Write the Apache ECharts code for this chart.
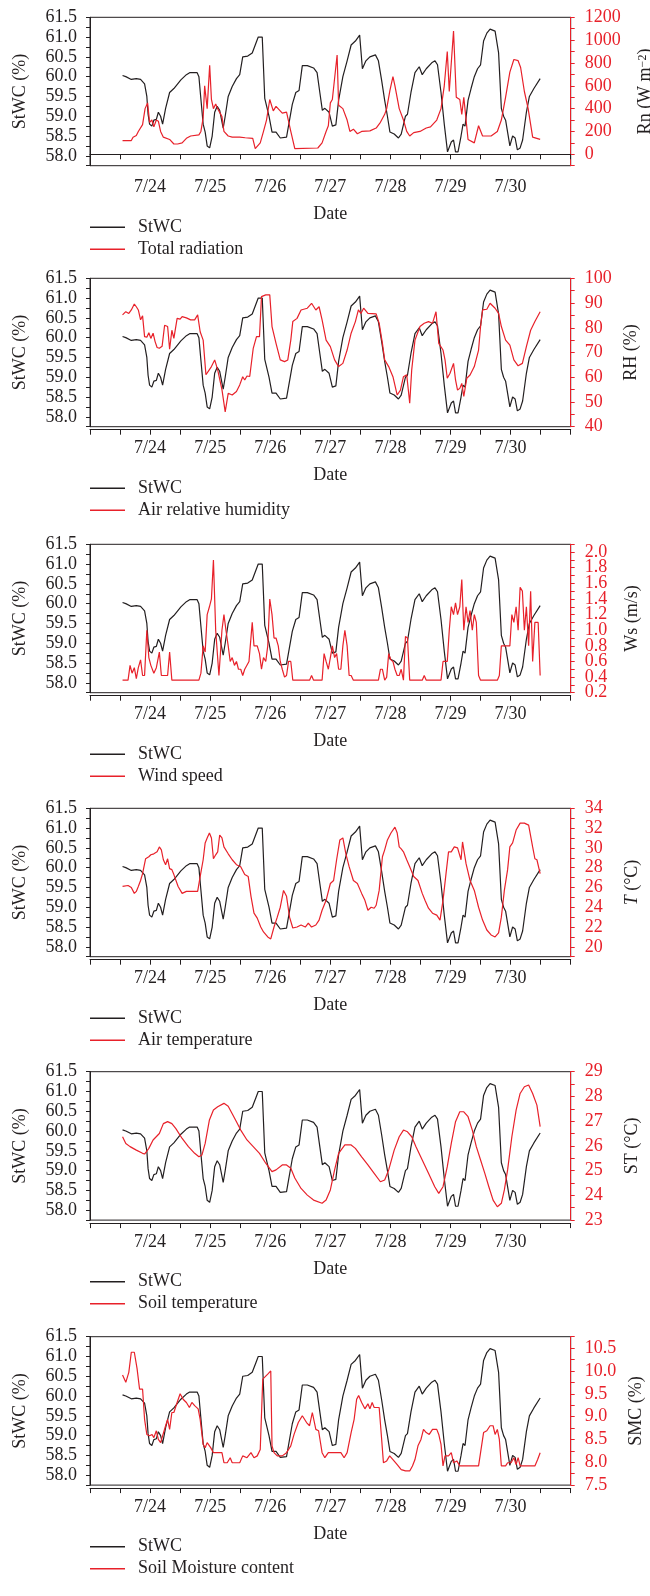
<!DOCTYPE html>
<html>
<head>
<meta charset="utf-8">
<title>StWC</title>
<script src="https://cdn.jsdelivr.net/npm/echarts@6.0.0/dist/echarts.min.js"></script>
<style>
	html, body { margin: 0; padding: 0; background: #fff; }
	#main { width: 650px; height: 1596px; }
</style>
</head>
<body>
<div id="main"></div>
<script>
// x values are hours counted from 7/23 00:00
var dateLabels = ['7/24', '7/25', '7/26', '7/27', '7/28', '7/29', '7/30'];

// stem water content (left axis, same in every panel)
var stwcHour = [13, 14.3, 16.5, 18.5, 20.2, 21.8, 22.7, 23.2, 23.8, 24.7, 25.5, 26.5, 27.3, 28.2, 29, 30.2, 31.8, 33.5, 36.3, 38.5, 39.8, 41.8, 42.2, 42.8, 43.5, 44.2, 45.2, 46, 46.8, 47.8, 48.8, 49.8, 50.8, 51.8, 53.2, 54, 55.2, 56.8, 58.5, 59.8, 61, 63, 64.8, 66.3, 67.2, 68.8, 69.8, 71.5, 72.7, 74.3, 76, 78.5, 79.2, 80.8, 82.2, 83.5, 84.8, 86.8, 89.3, 90.7, 91.8, 92.8, 93.8, 95.5, 96.8, 98.2, 99.3, 101, 102.7, 104.3, 106, 107.7, 108.8, 110.2, 111.8, 114, 115.2, 116.5, 117.7, 118.8, 119.8, 121.5, 123.2, 124.3, 126, 126.8, 128.2, 129.8, 131.5, 132.7, 134.3, 136.5, 137.8, 138.8, 140.2, 141.5, 142.8, 144.3, 145.2, 146, 147, 148.2, 149, 149.8, 151, 152.2, 153.5, 154.8, 156, 157.2, 158.5, 159.8, 161.8, 163.2, 164.3, 165.2, 166, 167.7, 168.8, 169.8, 170.7, 171.8, 172.8, 174.3, 175.5, 177.3, 179.8];
var stwcVal = [60.03, 60.0, 59.93, 59.95, 59.93, 59.82, 59.5, 59.05, 58.8, 58.75, 58.9, 58.92, 59.1, 59.0, 58.8, 59.2, 59.6, 59.7, 59.92, 60.05, 60.1, 60.1, 60.05, 60.1, 60.0, 59.5, 58.8, 58.6, 58.25, 58.2, 58.5, 59.1, 59.25, 59.15, 58.7, 59.0, 59.5, 59.75, 59.95, 60.05, 60.5, 60.52, 60.6, 60.85, 61.0, 61.0, 59.45, 59.0, 58.6, 58.6, 58.45, 58.47, 58.5, 59.3, 59.6, 59.65, 60.28, 60.28, 60.22, 60.1, 59.6, 59.15, 59.2, 59.1, 58.75, 58.78, 59.4, 60.0, 60.4, 60.8, 60.9, 61.05, 60.2, 60.4, 60.5, 60.55, 60.4, 59.9, 59.4, 59.0, 58.6, 58.55, 58.45, 58.55, 59.0, 59.05, 59.6, 60.1, 60.25, 60.05, 60.2, 60.35, 60.4, 60.3, 59.6, 58.8, 58.1, 58.35, 58.4, 58.1, 58.1, 58.5, 58.8, 58.75, 59.4, 59.7, 60.0, 60.2, 60.3, 60.9, 61.1, 61.2, 61.15, 60.6, 59.2, 59.0, 58.9, 58.25, 58.5, 58.45, 58.15, 58.2, 58.4, 59.1, 59.5, 59.7, 59.95];

// total radiation Rn (W m-2)
var rnHour = [13, 16.5, 17.2, 18.5, 19.3, 21, 22, 23, 23.8, 24.7, 25.5, 26.5, 27.3, 28.2, 29.3, 31.8, 33.5, 35, 36.8, 38.5, 40.2, 43.5, 44.3, 45.2, 45.8, 46.8, 47.8, 48.5, 49.3, 50.2, 51, 52.7, 53.5, 55.2, 56.8, 59.8, 62, 65, 66, 68, 69.3, 70.5, 71.8, 73.2, 74.3, 76.8, 78.5, 80.2, 81.8, 91, 92.7, 94.3, 95.2, 96, 96.8, 98.7, 99.3, 101, 102.7, 103.8, 105.2, 106.8, 108.5, 111.8, 114.3, 116, 117.7, 118.5, 119.8, 121, 121.8, 123.5, 125.2, 126.5, 127.7, 129.3, 131.8, 134.3, 136, 138.5, 140.2, 141.5, 142.7, 143.5, 145.2, 146.3, 147.7, 148.5, 149.3, 151, 153.5, 155.2, 156.8, 160.2, 162.7, 164.3, 166, 167.7, 169.3, 171, 172, 173.5, 175, 176.8, 179.8];
var rnVal = [120, 120, 150, 165, 200, 260, 400, 450, 280, 300, 240, 300, 290, 200, 150, 130, 90, 90, 100, 140, 160, 170, 200, 320, 600, 400, 780, 480, 400, 440, 400, 330, 200, 160, 150, 150, 145, 140, 50, 100, 200, 300, 480, 380, 420, 360, 370, 200, 50, 55, 100, 200, 250, 450, 480, 870, 430, 400, 300, 200, 220, 180, 200, 205, 230, 280, 350, 400, 560, 680, 600, 400, 300, 200, 160, 190, 200, 230, 240, 300, 400, 600, 900, 550, 1080, 500, 480, 350, 500, 130, 100, 250, 160, 160, 200, 300, 500, 720, 830, 820, 760, 550, 400, 150, 130];

// air relative humidity RH (%)
var rhHour = [13, 14.3, 15.5, 16.5, 17.7, 18.5, 19.3, 20.2, 21, 21.8, 22.7, 23.5, 24.3, 25.2, 26, 26.8, 27.7, 28.8, 29.8, 31, 31.8, 32.7, 33.5, 34.8, 36, 36.8, 38.5, 40.2, 41.8, 43, 44, 45.2, 46.3, 47.3, 48.5, 49.8, 51, 52.7, 54, 55.2, 56.8, 58.5, 59.8, 61, 61.8, 62.7, 63.8, 65.2, 66.5, 67.7, 68.5, 70.2, 71.8, 72.7, 74.3, 76, 77.7, 79, 80.2, 81, 82.7, 84.3, 86.8, 88.5, 90.2, 91.5, 92.7, 94.3, 96, 97.7, 99.3, 101, 102.7, 104.3, 106, 107.2, 108.2, 109.3, 111, 114.3, 115.5, 116.8, 117.7, 119.3, 121, 122.7, 124, 125.2, 126.5, 127.7, 128.5, 129.8, 131.8, 133.5, 135.2, 136.8, 138.2, 139.3, 141, 141.8, 142.7, 143.8, 145.2, 146, 146.8, 147.7, 148.5, 149.3, 150.5, 151.8, 153.5, 155.2, 156, 156.8, 158.5, 159.8, 161.8, 163.2, 164.3, 166, 167.7, 169.3, 171, 172.7, 174.3, 176, 177.7, 178.3, 179.8];
var rhVal = [85.2, 86.5, 85.8, 87.2, 89.6, 88.5, 87.2, 83.2, 84.8, 76.4, 76.2, 78, 75.7, 77.8, 74.4, 72, 71.7, 72.5, 81, 80.5, 71.3, 79, 75.7, 83.8, 83.5, 84.5, 84, 83.2, 83.2, 85.2, 78.4, 75, 61, 62.5, 64.3, 67, 63, 55, 46, 53.5, 52.8, 54.2, 56.9, 60.2, 58.9, 60.5, 60.3, 71.7, 76.4, 76.4, 92.6, 93.3, 93.3, 80.5, 73.7, 67, 66.3, 67, 75, 82.5, 83.8, 87.2, 87.9, 89.9, 87.2, 88.5, 83.2, 75, 72.4, 67, 64.3, 65.6, 71, 77.8, 82.5, 87.2, 85.8, 87.9, 85.8, 85.6, 81.8, 73.7, 67, 64.3, 60.2, 52.8, 54.8, 60.2, 61, 49.5, 63, 75, 80.5, 81.8, 82.5, 81.8, 86.5, 73.7, 71, 67, 59.6, 61.6, 65.6, 58.9, 54.8, 55.5, 57.5, 52.2, 59.6, 60.9, 64.3, 71, 80.5, 87.2, 87.5, 89.9, 87.9, 85.8, 80.5, 75, 73, 67, 64.6, 65.6, 72.4, 79, 82.5, 83, 86.5];

// wind speed Ws (m/s)
var wsHour = [13, 15.2, 16, 16.8, 17.7, 18.5, 19.3, 20.2, 21, 21.8, 22.7, 23.5, 24.3, 25.5, 26.5, 27.7, 28.5, 31, 31.8, 32.7, 43.5, 44.3, 45.2, 46, 46.8, 47.7, 48.5, 49.3, 50.2, 51.5, 52.7, 53.5, 54.3, 55.2, 56, 56.8, 57.7, 58.5, 59.3, 60.2, 61, 61.8, 63.5, 64.8, 65.5, 66.8, 67.7, 68.5, 69.3, 70.2, 71, 71.8, 72.7, 73.5, 74.3, 75.2, 76, 76.8, 77.7, 78.5, 79.3, 80.2, 81, 87.7, 88.5, 89.3, 92.7, 93.5, 94.3, 95.2, 96, 96.8, 97.7, 98.5, 99.3, 100.2, 101, 101.8, 102.7, 103.5, 104.3, 105.2, 115.2, 116, 116.8, 117.7, 118.5, 119.3, 120.2, 121, 121.8, 122.7, 123.5, 124.3, 125.2, 126, 126.8, 127.7, 132.7, 133.5, 134.3, 140.2, 141, 142.7, 143.5, 144.3, 145.2, 146, 146.8, 147.7, 148.5, 149.3, 150.2, 151, 151.8, 152.7, 153.5, 154.3, 155.2, 156, 162.7, 163.5, 164.3, 167.7, 168.5, 169.3, 170.2, 171, 171.8, 172.7, 173.5, 174.3, 175.2, 176, 176.8, 177.7, 179, 179.8];
var wsVal = [0.36, 0.36, 0.55, 0.45, 0.52, 0.38, 0.52, 0.62, 0.42, 0.42, 1.0, 0.65, 0.55, 0.45, 0.52, 0.72, 0.42, 0.42, 0.72, 0.36, 0.36, 0.45, 0.8, 0.72, 1.2, 1.3, 1.4, 1.9, 1.0, 0.42, 1.0, 1.2, 1.0, 0.8, 0.6, 0.65, 0.55, 0.6, 0.5, 0.5, 0.42, 0.5, 0.6, 1.1, 0.8, 0.8, 0.7, 0.5, 0.65, 0.6, 0.8, 1.4, 1.2, 0.9, 0.9, 0.8, 0.6, 0.5, 0.4, 0.42, 0.6, 0.6, 0.36, 0.36, 0.42, 0.36, 0.36, 0.7, 0.6, 0.5, 0.65, 0.8, 0.65, 0.7, 0.5, 0.5, 0.8, 1.0, 0.8, 0.42, 0.42, 0.36, 0.36, 0.5, 0.5, 0.36, 0.4, 0.7, 0.62, 0.6, 0.5, 0.42, 0.42, 0.5, 0.36, 0.92, 0.9, 0.36, 0.36, 0.42, 0.36, 0.36, 0.6, 0.6, 1.0, 1.3, 1.2, 1.35, 1.2, 1.3, 1.65, 1.0, 1.3, 1.1, 1.25, 1.0, 1.2, 1.1, 0.42, 0.36, 0.36, 0.42, 0.8, 0.8, 1.2, 1.1, 1.3, 1.0, 1.55, 1.5, 1.0, 1.3, 0.8, 1.5, 0.6, 1.1, 1.1, 0.42];

// air temperature T (°C)
var atHour = [13, 15.2, 16.5, 17.7, 18.5, 19.3, 20.2, 21, 22.2, 23.5, 24.3, 25.5, 26.8, 27.7, 28.5, 29.3, 30.2, 31, 31.8, 32.7, 33.5, 35.2, 36.8, 38.5, 43, 44, 45.2, 46, 46.8, 47.7, 48.5, 49.3, 50.2, 51, 51.8, 52.7, 53.5, 55.2, 56.8, 58.5, 60.2, 61.8, 63.2, 64.3, 65.5, 66.8, 68.2, 69.3, 71, 72.2, 73.5, 74.8, 76, 77.3, 78.5, 79.7, 81, 82.7, 84.3, 86, 87.2, 88.5, 90.2, 91.5, 92.7, 94.3, 96, 97.3, 98.5, 99.8, 101, 102.2, 103.5, 105.2, 106.8, 108.5, 109.8, 111, 112.3, 113.5, 114.3, 115.5, 116.8, 117.7, 118.8, 120.2, 121.8, 122.7, 123.5, 124.3, 125.2, 126.5, 127.7, 129.3, 131, 132.7, 133.8, 135.2, 136.8, 138.5, 139.8, 141, 142.2, 143.2, 144.3, 145.5, 146.8, 148.2, 148.8, 150.2, 151.8, 153.5, 155.2, 156.8, 158.5, 160.2, 161.8, 163.2, 164.3, 165.5, 166.8, 167.7, 168.8, 170.2, 171.8, 173.5, 175.2, 176.8, 177.7, 178.5, 179.8];
var atVal = [26.1, 26.2, 26.0, 25.4, 25.6, 26.1, 26.7, 27.4, 28.9, 29.1, 29.3, 29.4, 29.6, 30.1, 29.8, 28.8, 28.3, 28.9, 27.9, 27.8, 27.3, 26.1, 25.4, 25.6, 25.6, 27.1, 28.8, 30.5, 31, 31.5, 31, 28.9, 29.3, 29.6, 31.3, 31, 30.1, 29.4, 28.8, 28.3, 28.1, 27.3, 27.1, 25.1, 23.4, 22.9, 22, 21.5, 21, 20.8, 22, 23, 24, 25.7, 25.1, 23, 21.9, 22, 22.2, 22, 22.4, 22, 22.2, 22.7, 23.7, 24.7, 26.4, 26.7, 28.8, 30.8, 31, 29.4, 28.1, 26.7, 26.4, 25.4, 24.7, 23.7, 24, 23.9, 24.2, 25.7, 29.1, 29.8, 30.8, 31.5, 32.1, 31.5, 30.1, 29.9, 29.6, 28.8, 28.1, 27.1, 26.7, 25.4, 24.7, 23.9, 23.4, 23.2, 22.7, 24.7, 27.4, 29.6, 29.6, 30.1, 30, 28.8, 30.6, 28.4, 26.7, 25.7, 24, 22.7, 21.7, 21.2, 21, 21.4, 23, 25.7, 27.8, 30.1, 30.5, 31.8, 32.5, 32.5, 32.3, 30.1, 28.9, 28.8, 27.4];

// soil temperature ST (°C)
var stHour = [13, 14.3, 16, 18.5, 21, 21.8, 23.5, 25.2, 27.7, 29.3, 31, 32.7, 34.3, 36.8, 39.3, 41.8, 43.5, 44.7, 46, 47.7, 49.3, 51, 53.5, 55.2, 56.8, 58.5, 60.2, 62.7, 65.2, 67.7, 70.2, 72.7, 74.3, 76.8, 78.5, 80.2, 81.8, 84.3, 86.8, 89.3, 92.7, 94.3, 96, 97.7, 99.3, 101.8, 104.3, 106, 108.5, 111, 113.5, 116, 117.7, 119.3, 121.5, 123.5, 125.2, 126.8, 128.5, 130.2, 132.7, 135.2, 137.7, 139.3, 141, 142.7, 144.3, 146, 147.7, 149.3, 151, 152.7, 154.3, 156, 157.7, 159.3, 161, 162.7, 164.3, 165.5, 166.8, 168.5, 170.2, 171.8, 173.5, 175.2, 176.8, 178.5, 179.8];
var stVal = [26.37, 26.1, 25.97, 25.83, 25.7, 25.67, 25.9, 26.24, 26.5, 26.9, 26.98, 26.9, 26.7, 26.3, 25.97, 25.7, 25.56, 25.63, 26.1, 27.05, 27.45, 27.58, 27.72, 27.6, 27.3, 26.98, 26.64, 26.24, 25.97, 25.7, 25.3, 24.96, 25.03, 25.23, 25.23, 25.1, 24.7, 24.28, 24.01, 23.81, 23.68, 23.81, 24.22, 25.03, 25.7, 26.04, 26.04, 25.9, 25.56, 25.23, 24.89, 24.55, 24.62, 25.03, 25.83, 26.37, 26.64, 26.57, 26.37, 25.97, 25.43, 24.89, 24.35, 24.08, 24.35, 25.16, 26.1, 26.98, 27.38, 27.38, 27.18, 26.64, 25.97, 25.43, 24.89, 24.35, 23.81, 23.54, 23.68, 24.22, 25.03, 26.37, 27.45, 28.12, 28.39, 28.46, 28.12, 27.65, 26.78];

// soil moisture content SMC (%)
var smcHour = [13, 14.3, 15.5, 16.5, 17.7, 18.8, 19.8, 21, 21.8, 22.7, 23.8, 24.8, 25.5, 26.5, 27.3, 28.2, 28.8, 30.2, 31, 31.8, 32.7, 33.5, 34.8, 36, 37.2, 38.5, 39.7, 40.7, 41.8, 43.2, 44, 45.2, 46, 46.8, 48.2, 49.3, 52.7, 53.5, 54.8, 56, 56.8, 59.8, 61, 62.7, 64.3, 65.5, 66.8, 68, 69, 71, 72.2, 72.7, 73.5, 74.8, 76.8, 78.5, 80.2, 81.5, 83.2, 84.8, 86.5, 87.7, 88.8, 90.2, 91.3, 92.7, 93.8, 95.2, 100.2, 101.5, 102.7, 104.3, 105.5, 106.5, 107.3, 108.5, 109.8, 111, 111.8, 112.7, 113.5, 115.5, 116.5, 117.2, 118.5, 119.7, 121, 122.7, 124.3, 126, 127.7, 128.8, 129.8, 131, 132.2, 133.2, 134.3, 135.5, 136.8, 138.5, 139.3, 140.2, 141, 141.8, 143.2, 144.3, 145.2, 146.5, 147.7, 155.2, 156, 157.2, 158.5, 159.8, 161, 161.8, 162.7, 163.5, 164.3, 166, 166.8, 168.2, 169.3, 170.2, 171, 171.8, 177.7, 178.8, 179.8];
var smcVal = [9.91, 9.75, 9.97, 10.41, 10.41, 10.05, 9.6, 9.6, 8.94, 8.61, 8.58, 8.61, 8.54, 8.69, 8.5, 8.43, 8.43, 8.8, 8.94, 8.72, 9.09, 9.09, 9.31, 9.5, 9.38, 9.31, 9.2, 9.31, 9.24, 9.17, 8.94, 8.39, 8.32, 8.43, 8.32, 8.21, 8.21, 7.99, 7.99, 8.1, 7.99, 7.99, 8.14, 8.1, 8.21, 8.1, 8.14, 8.28, 9.82, 9.93, 10.0, 8.36, 8.21, 8.14, 8.14, 8.21, 8.36, 8.61, 8.87, 9.02, 8.87, 8.8, 9.09, 8.72, 8.69, 8.21, 8.1, 8.21, 8.21, 8.1, 8.21, 8.65, 8.94, 9.38, 9.46, 9.31, 9.17, 9.28, 9.17, 9.31, 9.2, 9.2, 8.5, 7.99, 8.03, 8.14, 8.06, 7.95, 7.84, 7.81, 7.81, 7.92, 8.06, 8.36, 8.5, 8.72, 8.65, 8.61, 8.72, 8.72, 8.61, 8.39, 7.92, 8.14, 8.14, 8.21, 7.99, 8.03, 7.92, 7.92, 8.21, 8.65, 8.69, 8.8, 8.8, 8.61, 8.72, 8.5, 7.92, 7.92, 7.99, 7.99, 8.1, 7.95, 8.1, 7.92, 7.92, 8.06, 8.21];

var BLACK = '#231f20';
var RED = '#e8212a';
var FONT = '"Liberation Serif", "DejaVu Serif", serif';

function pairs(h, v) {
	return h.map(function (x, i) { return [x, v[i]]; });
}

// one entry per panel: red series, right axis
var panels = [
	{ label: 'Total radiation', hour: rnHour, val: rnVal, name: 'Rn (W m{sup|−2})', gap: 66,
		min: -100, max: 1200, interval: 100, show: function (v) { return v >= 0 && v % 200 === 0; }, fmt: function (v) { return String(v); } },
	{ label: 'Air relative humidity', hour: rhHour, val: rhVal, name: 'RH (%)', gap: 52,
		min: 40, max: 100, interval: 5, show: function (v) { return v % 10 === 0; }, fmt: function (v) { return String(v); } },
	{ label: 'Wind speed', hour: wsHour, val: wsVal, name: 'Ws (m/s)', gap: 53,
		min: 0.2, max: 2.1, interval: 0.1, show: function (v) { return Math.round(v * 10) % 2 === 0; }, fmt: function (v) { return v.toFixed(1); } },
	{ label: 'Air temperature', hour: atHour, val: atVal, name: '{it|T} (°C)', gap: 53,
		min: 19, max: 34, interval: 1, show: function (v) { return v % 2 === 0; }, fmt: function (v) { return String(v); } },
	{ label: 'Soil temperature', hour: stHour, val: stVal, name: 'ST (°C)', gap: 53,
		min: 23, max: 29, interval: 0.5, show: function (v) { return Math.round(v * 2) % 2 === 0; }, fmt: function (v) { return String(Math.round(v)); } },
	{ label: 'Soil Moisture content', hour: smcHour, val: smcVal, name: 'SMC (%)', gap: 56,
		min: 7.5, max: 10.75, interval: 0.25, show: function (v) { return Math.round(v * 4) % 2 === 0; }, fmt: function (v) { return v.toFixed(1); } }
];
var tops = [17.3, 278.3, 544.3, 808.3, 1071.7, 1336.7];
var boxH = 148.4;

var grids = [], xAxes = [], yAxes = [], series = [], legends = [];

panels.forEach(function (p, i) {
	var top = tops[i];
	grids.push({
		left: 90, top: top, width: 480.7, height: boxH, outerBoundsMode: 'none',
		show: true, borderColor: BLACK, borderWidth: 1, backgroundColor: 'transparent'
	});
	xAxes.push({
		gridIndex: i, type: 'value', min: 0, max: 192, interval: 12,
		position: 'bottom', offset: 3,
		axisLine: { lineStyle: { color: BLACK, width: 1 } },
		axisTick: { length: 5, lineStyle: { color: BLACK, width: 1 } },
		axisLabel: {
			margin: 10, color: BLACK, fontSize: 18, fontFamily: FONT,
			formatter: function (v) {
				if (v % 24 !== 0) return '';
				return dateLabels[v / 24 - 1] || '';
			}
		},
		splitLine: { show: false },
		name: 'Date', nameLocation: 'middle', nameGap: 37,
		nameTextStyle: { color: BLACK, fontSize: 18, fontFamily: FONT }
	});
	// StWC axis
	yAxes.push({
		gridIndex: i, type: 'value', position: 'left', min: 57.75, max: 61.5, interval: 0.25,
		axisLine: { show: true, lineStyle: { color: BLACK, width: 1 } },
		axisTick: { show: true, length: 4, lineStyle: { color: BLACK } },
		axisLabel: {
			margin: 13, color: BLACK, fontSize: 18, fontFamily: FONT,
			formatter: function (v) { return Math.round(v * 4) % 2 === 0 ? v.toFixed(1) : ''; }
		},
		splitLine: { show: false },
		name: 'StWC (%)', nameLocation: 'middle', nameRotate: 90, nameGap: 61,
		nameTextStyle: { color: BLACK, fontSize: 18, fontFamily: FONT }
	});
	// red axis
	yAxes.push({
		gridIndex: i, type: 'value', position: 'right', min: p.min, max: p.max, interval: p.interval,
		axisLine: { show: true, lineStyle: { color: RED, width: 1 } },
		axisTick: { show: true, length: 4, lineStyle: { color: RED } },
		axisLabel: {
			margin: 14, color: RED, fontSize: 18, fontFamily: FONT,
			formatter: function (v) { return p.show(v) ? p.fmt(v) : ''; }
		},
		splitLine: { show: false },
		name: p.name, nameLocation: 'middle', nameRotate: 90, nameGap: p.gap,
		nameTextStyle: {
			color: BLACK, fontSize: 18, fontFamily: FONT,
			rich: {
				sup: { fontSize: 12, fontFamily: FONT, color: BLACK, verticalAlign: 'top', lineHeight: 18 },
				it: { fontSize: 18, fontFamily: FONT, color: BLACK, fontStyle: 'italic' }
			}
		}
	});
	series.push({
		name: 'StWC', type: 'line', xAxisIndex: i, yAxisIndex: 2 * i,
		data: pairs(stwcHour, stwcVal), showSymbol: false, symbol: 'none',
		lineStyle: { color: BLACK, width: 1.2 }, itemStyle: { color: BLACK }
	});
	series.push({
		name: p.label, type: 'line', xAxisIndex: i, yAxisIndex: 2 * i + 1,
		data: pairs(p.hour, p.val), showSymbol: false, symbol: 'none',
		lineStyle: { color: RED, width: 1.2 }, itemStyle: { color: RED }
	});
	legends.push({
		orient: 'vertical', left: 90, top: top + 201, padding: 0,
		data: ['StWC', p.label], icon: 'rect', itemWidth: 35, itemHeight: 1.5, itemGap: 4,
		selectedMode: false,
		textStyle: { color: BLACK, fontSize: 18, fontFamily: FONT, padding: [0, 0, 0, 8] }
	});
});

var myChart = echarts.init(document.getElementById('main'));
myChart.setOption({
	animation: false,
	backgroundColor: '#fff',
	grid: grids,
	xAxis: xAxes,
	yAxis: yAxes,
	series: series,
	legend: legends
});
</script>
</body>
</html>
